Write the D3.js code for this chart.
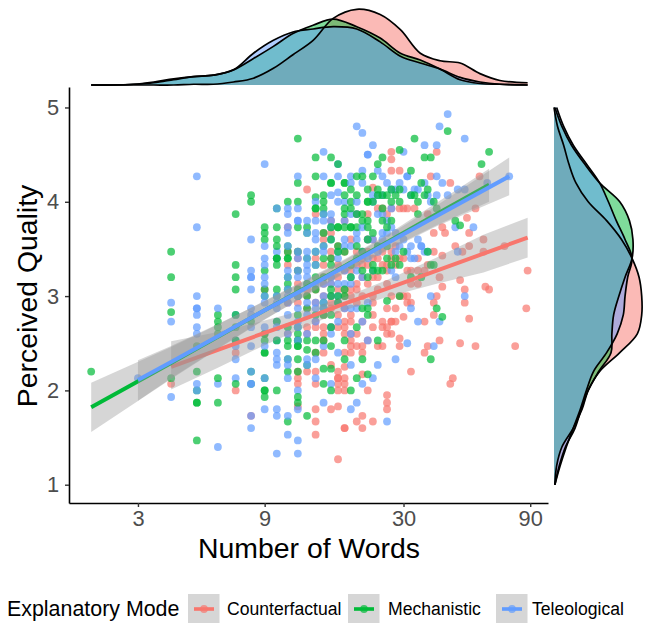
<!DOCTYPE html>
<html>
<head>
<meta charset="utf-8">
<script src="https://cdn.jsdelivr.net/npm/d3@7"></script>
<style>
  html, body { margin: 0; padding: 0; background: #fff; }
  text { font-family: "Liberation Sans", Arial, sans-serif; }
</style>
</head>
<body>
<svg id="chart" width="646" height="623"></svg>
<script>
const MODES = ["Counterfactual", "Mechanistic", "Teleological"]
const COLOURS = ["#F8766D", "#00BA38", "#619CFF"]
const X_TICKS = [3, 9, 30, 90]
const Y_TICKS = [1, 2, 3, 4, 5]

// [number of words, [perceived quality, ...]]
const counterfactual = [
  [4,[2.07]],[7,[2.4,2.0]],[8,[1.73]],[9,[3.07,2.6]],
  [11,[3.33,3.73,2.6,3.47,2.93]],[12,[3.47,3.27,3.07,3.4,2.2,2.13,2.07,1.83,2.93,3.0,3.13]],
  [13,[4.13,3.07,3.0,2.87,2.67,2.6,2.2]],[14,[3.4,3.07,2.93,2.73,2.67,2.4,2.2,2.07,1.8,1.67,1.53,3.87]],
  [15,[3.67,3.6,3.2,3.13,3.0,2.8,2.67,2.6,2.53,2.4,3.33]],[16,[3.67,3.47,3.4,3.2,3.13,3.0,2.93,2.87,2.67,2.27,1.8,3.8]],
  [17,[3.53,3.33,3.2,3.07,2.93,2.8,2.67,2.2,2.13,2.13,2.07,2.0,1.83,1.27]],
  [18,[3.8,3.47,3.27,3.07,3.0,2.87,2.73,2.67,2.6,2.4,2.25,2.13,2.07,2.0,1.6,1.6]],
  [19,[3.6,3.27,3.07,3.0,2.8,2.73,2.6,2.47,2.4,2.53]],[20,[3.47,3.33,3.13,3.07,2.93,2.6,2.47,1.67,3.87]],
  [21,[3.2,3.4,3.33,2.73,2.47,2.4,2.17,1.73,1.6,3.0]],[22,[3.6,3.47,3.13,3.33,2.53,2.0,3.87]],
  [23,[4.15,3.6,3.2,3.0,2.93,2.8,2.67,1.67,3.4]],[24,[3.2,3.07,3.4,2.47,3.93]],
  [25,[3.47,3.33,2.73,2.67,2.47,3.93]],[26,[3.33,3.27,3.13,2.87,2.67,2.6,1.95,1.87,1.8,3.87]],
  [27,[4.53,4.45,4.33,3.47,3.0,2.73,2.73,2.6,3.4,3.93]],[28,[3.53,2.87,2.73,3.33]],
  [29,[4.33,3.93,3.4,3.0,2.55,2.47]],[30,[3.93,3.0,2.78,3.4]],[31,[3.27,3.0,2.93,3.93]],
  [32,[2.93,2.2,3.27,3.13]],[33,[3.93]],[34,[3.13,3.27,3.4]],[36,[2.73,2.4,3.27]],
  [37,[3.87,3.33,2.47]],[38,[4.27]],[39,[3.67,3.47,2.93,2.8]],[40,[4.53,3.0]],
  [41,[3.2,2.53]],[42,[3.73,3.43,3.1]],[43,[3.67]],[45,[4.2,2.07]],[46,[2.13]],
  [47,[3.53]],[49,[3.17,2.5]],[50,[3.47]],[51,[3.07,2.93]],[52,[3.83]],[53,[3.67,3.53,2.76]],
  [56,[3.93,2.47]],[58,[4.27]],[60,[3.6,3.47]],[61,[3.1]],[63,[3.07]],[72,[3.53]],
  [79,[2.47]],[87,[2.87]],[88,[3.27]]
]
const mechanistic = [
  [2,[2.2]],[4,[3.47,3.2,2.83,2.13]],[5,[2.47,2.2,2.0,1.87,1.87,1.47]],[6,[2.8,2.73,2.67,2.6,2.13,1.87]],
  [7,[3.87,3.33,3.2,3.07,2.8,2.67,2.53,2.07]],[8,[4.07,4.0,2.2,2.07,2.73]],
  [9,[3.73,3.67,3.6,3.27,3.07,3.0,2.6,2.53,2.4,2.4,2.13,2.0,2.0,1.93]],
  [10,[3.93,3.73,3.6,3.53,3.4,3.4,3.33,3.07,3.0,2.73,2.53,2.0]],
  [11,[4.0,3.53,3.47,3.4,3.4,3.2,3.13,3.07,2.67,2.53,2.47,2.33,2.2,1.67]],
  [12,[4.67,4.2,4.0,3.73,3.47,3.27,3.07,3.0,2.8,2.67,2.6,2.53,2.53,2.47,2.47,2.33,2.2,1.93,1.87]],
  [13,[3.73,3.67,3.4,3.0,2.87,2.53,2.43,2.27,1.73,3.13]],[14,[4.47,4.27,4.05,3.93,3.93,3.47,3.33,2.8,2.53,2.4,3.2,3.07]],
  [15,[4.07,4.0,3.93,3.87,3.67,3.53,3.4,3.2,2.93,2.87,2.8,2.53,2.23,2.07]],
  [16,[4.47,4.2,4.2,3.73,3.6,3.4,3.33,3.07,3.0,2.8,2.67,2.47,2.23,2.0]],
  [17,[4.4,3.73,3.73,3.53,3.47,3.0,2.93]],[18,[4.2,4.2,4.07,3.93,3.87,3.73,3.47,3.07,3.0,2.53,2.33]],
  [19,[4.13,4.0,3.93,3.73,3.73,3.33,2.0,3.2]],[20,[4.27,4.07,3.87,3.73,3.53,3.4,2.67,2.13]],
  [21,[4.27,3.87,3.8,3.47,3.27,2.33,2.87]],[22,[4.13,4.0,4.0,3.8,3.73,3.6,3.2,2.87,2.8,2.17]],
  [23,[4.27,4.0,3.67,3.33,3.27]],[24,[4.4,4.13,4.07,3.53,3.27,2.53]],[25,[4.47,4.07,3.93,3.8,3.27]],
  [26,[4.07,3.73,3.53,3.4,2.95]],[27,[4.13,4.0,3.8,3.33]],[28,[4.07,3.4]],[29,[4.55,4.13,4.0,3.33,3.0]],
  [30,[3.47]],[32,[4.33,4.07,3.2]],[33,[4.67,4.07]],[34,[4.0,3.87]],[35,[4.2,3.2]],
  [36,[4.47,4.07]],[37,[4.13,3.47]],[38,[4.47,3.33,2.33]],[39,[4.0,3.33]],[40,[3.93,2.87]],
  [42,[2.78]],[44,[4.75]],[47,[3.8]],[49,[3.75]],[59,[4.4]],[63,[4.53]]
]
const teleological = [
  [3,[2.13]],[4,[2.93,2.73,1.93]],[5,[3.0,2.87,2.87,2.8,2.67,2.6,2.07,2.0,4.27,3.73]],[6,[2.87,2.07,1.4]],
  [7,[2.8,2.53,2.47,2.33,2.13]],[8,[3.6,3.27,3.2,3.2,3.07,2.87,2.8,2.67,2.47,2.2,2.07,2.07,1.6,1.73]],
  [9,[4.4,3.53,3.4,3.33,3.2,3.13,3.0,2.93,2.67,2.47,2.13,1.8]],
  [10,[3.93,3.47,3.4,2.87,2.73,2.53,2.4,2.33,2.27,1.8,1.73,1.33,3.0,2.93,2.67]],
  [11,[3.93,3.87,3.67,3.73,3.53,3.27,3.2,3.07,3.0,2.93,2.8,2.6,2.33,2.27,1.73,1.53,2.13]],
  [12,[4.27,3.93,3.8,3.8,3.47,3.4,3.2,3.0,2.87,2.73,2.67,2.53,2.0,1.8,1.47,1.33,3.27]],
  [13,[3.8,3.67,3.47,3.4,3.33,3.27,3.2,3.13,2.93,2.8,2.6,2.33,2.27]],
  [14,[4.0,3.67,3.6,3.47,3.33,3.13,2.93,2.87,2.73,2.33,2.13,3.8]],
  [15,[4.53,4.27,3.87,3.8,3.53,3.47,3.13,3.0,2.93,2.87,2.47,1.87]],
  [16,[4.07,3.87,3.8,3.73,3.6,3.2,3.13,3.0,2.67,2.6,2.07]],[17,[4.4,4.27,4.1,4.0,3.47,3.4,3.13,3.0,2.93,2.73,2.4]],
  [18,[4.0,3.8,3.6,3.53,3.27,3.13,2.87]],[19,[4.27,4.2,3.87,3.53,3.2,3.13,2.87,2.6,2.27,1.8]],
  [20,[4.8,4.0,3.87,3.67,3.6,3.27,2.87,1.87]],[21,[4.73,4.33,4.2,3.73,3.47,3.2,2.73,2.07]],
  [22,[4.5,4.5,3.6,3.4,2.93,2.53]],[23,[4.6,4.07,4.0,3.6,3.27,2.13]],[24,[4.33,4.07,3.87,3.53,3.47,2.27]],
  [25,[4.27,4.07,3.87,3.67,3.6]],[26,[4.2,3.8,3.67,1.67]],[27,[4.13,3.93,3.73,3.27]],[28,[4.13,3.67,3.47,3.2,2.33]],
  [29,[4.2,3.53]],[30,[4.53,4.13,3.6]],[31,[4.27,4.27,3.47,2.5]],[32,[4.07,3.53,3.4,2.87]],
  [33,[4.13,3.4]],[34,[4.13,3.6,2.73]],[35,[3.53,3.53]],[36,[4.6,4.2,3.47]],[37,[4.07,3.47]],
  [38,[3.0,4.0]],[39,[2.47]],[40,[4.6,4.27,4.07]],[41,[4.8,2.73]],[42,[4.2]],[44,[4.93,4.07]],
  [47,[3.73]],[48,[4.13,3.47]],[51,[4.67,4.13,3.0]],[55,[3.73]],[62,[4.2]],[75,[4.27]]
]

// fitted lines with their confidence bands
const fitWords = [
  [4, 6, 9, 13, 18, 26, 40, 60, 88],
  [2, 4, 6, 9, 13, 18, 26, 40, 63],
  [3, 4, 6, 9, 13, 18, 26, 40, 75]
]
const fitMid = [
  [2.25, 2.43, 2.61, 2.77, 2.92, 3.08, 3.27, 3.45, 3.62],
  [1.82, 2.29, 2.57, 2.85, 3.10, 3.32, 3.57, 3.87, 4.18],
  [2.11, 2.30, 2.575, 2.85, 3.09, 3.31, 3.56, 3.85, 4.27]
]
const fitLow = [
  [2.01, 2.24, 2.48, 2.68, 2.85, 2.99, 3.13, 3.25, 3.41],
  [1.56, 2.12, 2.44, 2.75, 3.02, 3.25, 3.49, 3.75, 4.0],
  [1.89, 2.13, 2.445, 2.755, 3.01, 3.24, 3.48, 3.74, 4.07]
]
const fitHigh = [
  [2.52, 2.62, 2.74, 2.86, 2.99, 3.17, 3.41, 3.65, 3.83],
  [2.08, 2.46, 2.70, 2.95, 3.18, 3.39, 3.65, 3.99, 4.35],
  [2.32, 2.47, 2.705, 2.945, 3.17, 3.38, 3.64, 3.96, 4.47]
]

// marginal densities, relative to the tallest curve
const topWords = [2, 2.42, 2.89, 3.44, 4.09, 4.86, 5.77, 6.87, 8.17, 9.71, 11.5, 13.7, 16.3, 20, 24.5, 29.2, 34.7, 41.2, 49, 58.2, 69.2, 88]
const topDensity = [
  [0, 0, 0, 0, 0, .01, .01, .04, .09, .22, .40, .59, .88, 1, .93, .73, .42, .32, .29, .15, .06, .03],
  [0, 0, .01, .03, .07, .11, .13, .20, .35, .51, .68, .79, .87, .77, .62, .42, .33, .21, .07, .02, .01, 0],
  [0, 0, .01, .04, .08, .11, .13, .20, .42, .59, .70, .74, .77, .74, .57, .38, .29, .21, .10, .04, .01, 0]
]
const rightQuality = [5, 4.8, 4.6, 4.4, 4.2, 4, 3.8, 3.6, 3.4, 3.2, 3, 2.8, 2.6, 2.4, 2.2, 2, 1.8, 1.6, 1.4, 1.2, 1]
const rightDensity = [
  [0, .04, .11, .17, .25, .39, .60, .77, .89, .97, 1, 1, .95, .75, .52, .39, .31, .24, .13, .06, .01],
  [.01, .09, .20, .35, .52, .75, .86, .90, .89, .81, .74, .68, .66, .65, .51, .39, .32, .22, .09, .03, .01],
  [.03, .11, .22, .37, .52, .62, .71, .81, .89, .84, .81, .79, .72, .60, .45, .37, .30, .22, .14, .07, .01]
]

const svg = d3.select("#chart")

const x = d3.scaleLog().domain([1.65, 105]).range([69, 548])
const y = d3.scaleLinear().domain([0.806, 5.217]).range([503, 87])
const topY = d3.scaleLinear().domain([0, 1]).range([85, 9.3])
const rightX = d3.scaleLinear().domain([0, 1]).range([554, 641.7])

// top density, fills first so every outline stays black
topDensity.forEach((values, i) => {
  let rows = topWords.map((w, j) => [w, values[j]])
  svg.append("path")
    .attr("d", d3.area().x(d => x(d[0])).y0(topY(0)).y1(d => topY(d[1])).curve(d3.curveCatmullRom)(rows))
    .attr("fill", COLOURS[i])
    .attr("fill-opacity", 0.5)
})
topDensity.forEach(values => {
  let rows = topWords.map((w, j) => [w, values[j]])
  svg.append("path")
    .attr("d", d3.line().x(d => x(d[0])).y(d => topY(d[1])).curve(d3.curveCatmullRom)(rows))
    .attr("fill", "none")
    .attr("stroke", "#000")
    .attr("stroke-width", 1.7)
})

// right density
rightDensity.forEach((values, i) => {
  let rows = rightQuality.map((q, j) => [q, values[j]])
  svg.append("path")
    .attr("d", d3.area().y(d => y(d[0])).x0(rightX(0)).x1(d => rightX(d[1])).curve(d3.curveCatmullRom)(rows))
    .attr("fill", COLOURS[i])
    .attr("fill-opacity", 0.5)
})
rightDensity.forEach(values => {
  let rows = rightQuality.map((q, j) => [q, values[j]])
  svg.append("path")
    .attr("d", d3.line().y(d => y(d[0])).x(d => rightX(d[1])).curve(d3.curveCatmullRom)(rows))
    .attr("fill", "none")
    .attr("stroke", "#000")
    .attr("stroke-width", 1.7)
})

// points, mixed the way they sit in the data rather than one mode over another
let points = []
let lists = [counterfactual, mechanistic, teleological].map((list, i) =>
  list.flatMap(col => col[1].map(q => ({ words: col[0], quality: q, mode: i }))))
let longest = d3.max(lists, l => l.length)
for (let k = 0; k < longest; k++) {
  lists.forEach(l => {
    let at = Math.floor(k * l.length / longest)
    if (Math.floor((k + 1) * l.length / longest) > at) points.push(l[at])
  })
}

svg.append("g").selectAll("circle")
  .data(points)
  .enter()
  .append("circle")
  .attr("cx", d => x(d.words))
  .attr("cy", d => y(d.quality))
  .attr("r", 3.9)
  .attr("fill", d => COLOURS[d.mode])
  .attr("fill-opacity", 0.7)

// fits
MODES.forEach((mode, i) => {
  let rows = fitWords[i].map((w, j) => ({ w: w, mid: fitMid[i][j], low: fitLow[i][j], high: fitHigh[i][j] }))
  svg.append("path")
    .attr("d", d3.area().x(d => x(d.w)).y0(d => y(d.low)).y1(d => y(d.high))(rows))
    .attr("fill", "#999999")
    .attr("fill-opacity", 0.4)
  svg.append("path")
    .attr("d", d3.line().x(d => x(d.w)).y(d => y(d.mid))(rows))
    .attr("fill", "none")
    .attr("stroke", COLOURS[i])
    .attr("stroke-width", 4)
})

// axes
let xAxis = svg.append("g")
  .attr("transform", "translate(0,503)")
  .call(d3.axisBottom(x).tickValues(X_TICKS).tickFormat(d3.format("d")).tickSize(4).tickSizeOuter(0))
let yAxis = svg.append("g")
  .attr("transform", "translate(69,0)")
  .call(d3.axisLeft(y).tickValues(Y_TICKS).tickFormat(d3.format("d")).tickSize(4).tickSizeOuter(0))

;[xAxis, yAxis].forEach(axis => {
  axis.select(".domain").attr("stroke", "#000").attr("stroke-width", 1.6)
  axis.selectAll(".tick line").attr("stroke", "#333").attr("stroke-width", 1.4)
  axis.selectAll(".tick text").attr("fill", "#4D4D4D").style("font-size", "21.8px")
})
xAxis.selectAll(".tick text").attr("y", 8)
yAxis.selectAll(".tick text").attr("x", -10)

svg.append("text")
  .attr("x", 309)
  .attr("y", 558)
  .attr("text-anchor", "middle")
  .style("font-size", "28.4px")
  .text("Number of Words")

svg.append("text")
  .attr("transform", "translate(37,296) rotate(-90)")
  .attr("text-anchor", "middle")
  .style("font-size", "28.4px")
  .text("Perceived Quality")

// legend
svg.append("text")
  .attr("x", 7)
  .attr("y", 616)
  .style("font-size", "21.4px")
  .text("Explanatory Mode")

const keyLeft = [188, 348, 496]
const labelLeft = [227, 388, 532]
MODES.forEach((mode, i) => {
  let key = svg.append("g").attr("transform", `translate(${keyLeft[i]},594)`)
  key.append("rect").attr("width", 31.5).attr("height", 29).attr("fill", "#D6D6D6")
  key.append("line")
    .attr("x1", 6).attr("x2", 26).attr("y1", 15).attr("y2", 15)
    .attr("stroke", COLOURS[i]).attr("stroke-width", 3.6)
  key.append("circle").attr("cx", 16).attr("cy", 15).attr("r", 3.9).attr("fill", COLOURS[i]).attr("fill-opacity", 0.7)
  svg.append("text")
    .attr("x", labelLeft[i])
    .attr("y", 615)
    .style("font-size", "17.6px")
    .text(mode)
})
</script>
</body>
</html>
